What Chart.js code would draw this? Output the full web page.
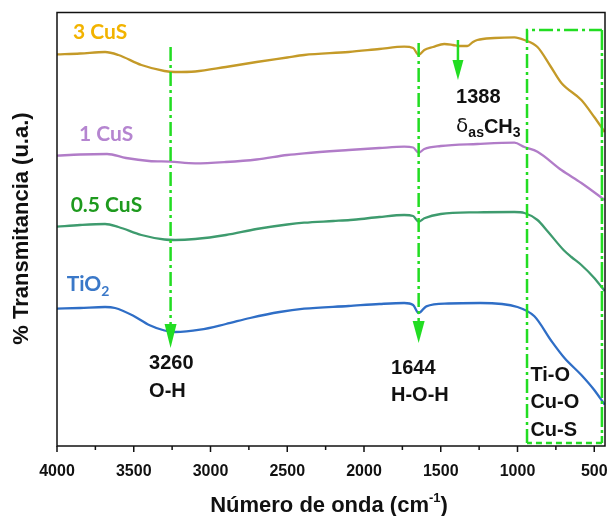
<!DOCTYPE html>
<html><head><meta charset="utf-8">
<script src="https://cdn.jsdelivr.net/npm/chart.js@4.4.1/dist/chart.umd.min.js"></script>
<style>html,body{margin:0;padding:0;background:#fff;}</style>
</head><body>
<canvas id="c" width="608" height="516"></canvas>
<script>
// ---- data (wavenumber cm-1, transmittance a.u.) ----
const seriesNames = ['3 CuS', '1 CuS', '0.5 CuS', 'TiO2'];
const wn3CuS = [4000,3850,3687,3600,3450,3300,3231,3100,2900,2700,2500,2390,2100,1900,1738,1680,1644,1607,1550,1477,1420,1380,1327,1290,1262,1150,1020,955,870,786,714,584,500,432];
const t3CuS  = [391.7,392.5,394,391,381,375,374,374.5,379,384,388.5,391,394,397,399.3,398,391,396,399,402,401,400,400,404,406,408,408.7,406,399,380,363,346,329,314];
const wn1CuS = [4000,3850,3674,3550,3400,3263,3100,2900,2700,2500,2390,2100,1900,1738,1680,1644,1607,1500,1262,1020,955,870,714,584,432];
const t1CuS  = [290.3,291.5,292,288,285,284.3,282.7,284,286.5,291,292.7,296,298,299.3,298.5,293.3,297,300,302,303.3,299,294.3,276,263,246];
const wn05CuS = [4000,3850,3687,3600,3450,3300,3231,3100,2900,2700,2500,2390,2200,2090,2050,1900,1738,1680,1644,1607,1500,1262,1020,955,870,800,700,649,584,500,432];
const t05CuS  = [219.3,221,222,219,211,206.5,206,207,211,217,221.5,223.3,225,226,226.5,229,231,230,224.3,227.7,232,233.7,234,233,226,214,196,189,181,168,155];
const wnTiO2 = [4000,3850,3687,3622,3500,3400,3300,3231,3068,2900,2742,2550,2390,2100,1900,1738,1680,1644,1594,1450,1242,1000,890,779,694,584,500,432];
const tTiO2  = [137.3,138,139,138,130,121,115.5,114,116.3,122,128,134,137.3,140,142,143,141,133,139.7,142.5,143,139,129.7,105,88,71,56,41.3];
const xTickLabels = [4000,3500,3000,2500,2000,1500,1000,500];
const xMinorTicks = [3750,3250,2750,2250,1750,1250,750];
const peakWn = [3260, 1644, 1388];
const peakLabels = ['3260', '1644', '1388'];
const bandLabels = ['O-H', 'H-O-H'];
const boxLabels = ['Ti-O', 'Cu-O', 'Cu-S'];

const lineColors = ['#C49A28', '#B17CC8', '#3E9B6E', '#2F6EC6'];
const labelColors = ['#F2B300', '#B585D0', '#1E9A1E', '#3A78C8'];
const GREEN = '#22DD22';

function pts(w, t) { return w.map((v, i) => ({x: v, y: t[i]})); }
const dataSets = [pts(wn3CuS, t3CuS), pts(wn1CuS, t1CuS), pts(wn05CuS, t05CuS), pts(wnTiO2, tTiO2)];

const annot = {
  id: 'annot',
  afterDatasetsDraw(chart) {
    const ctx = chart.ctx, xs = chart.scales.x, ys = chart.scales.y;
    const X = v => xs.getPixelForValue(v), Y = v => ys.getPixelForValue(v);
    ctx.save();
    function vline(w, t1, t2, dash) {
      ctx.beginPath(); ctx.setLineDash(dash); ctx.strokeStyle = GREEN; ctx.lineWidth = 2.5;
      ctx.moveTo(X(w), Y(t1)); ctx.lineTo(X(w), Y(t2)); ctx.stroke(); ctx.setLineDash([]);
    }
    function arrow(w, tBase, tTip, half) {
      ctx.beginPath(); ctx.fillStyle = GREEN;
      ctx.moveTo(X(w) - half, Y(tBase)); ctx.lineTo(X(w) + half, Y(tBase)); ctx.lineTo(X(w), Y(tTip));
      ctx.closePath(); ctx.fill();
    }
    const dd = [14, 4, 3, 4];
    vline(peakWn[0], 399, 120, dd); arrow(peakWn[0], 122, 98, 6);
    vline(peakWn[1], 403, 123, dd); arrow(peakWn[1], 125, 103, 6);
    vline(peakWn[2], 406, 384, []); arrow(peakWn[2], 386, 366, 5.5);
    // box
    ctx.strokeStyle = GREEN; ctx.lineWidth = 2.5;
    ctx.setLineDash(dd);
    ctx.beginPath(); ctx.moveTo(X(938), Y(3)); ctx.lineTo(X(938), Y(416)); ctx.lineTo(X(450), Y(416)); ctx.stroke();
    ctx.setLineDash([20, 3, 3, 3]);
    ctx.beginPath(); ctx.moveTo(X(450), Y(416)); ctx.lineTo(X(450), Y(3)); ctx.stroke();
    ctx.setLineDash([6, 4]);
    ctx.beginPath(); ctx.moveTo(X(450), Y(3)); ctx.lineTo(X(938), Y(3)); ctx.stroke();
    ctx.setLineDash([]);
    // annotation texts
    ctx.fillStyle = '#111'; ctx.textBaseline = 'middle'; ctx.textAlign = 'left';
    ctx.font = 'bold 20px "Liberation Sans", Arial, sans-serif';
    ctx.fillText(peakLabels[0], X(3400), Y(83));
    ctx.fillText(bandLabels[0], X(3400), Y(55));
    ctx.fillText(peakLabels[1], X(1824), Y(78));
    ctx.fillText(bandLabels[1], X(1824), Y(51));
    ctx.fillText(peakLabels[2], X(1400), Y(349));
    ctx.fillText(boxLabels[0], X(916), Y(71));
    ctx.fillText(boxLabels[1], X(916), Y(44));
    ctx.fillText(boxLabels[2], X(916), Y(16));
    // delta_as CH3
    let x0 = X(1400), y0 = Y(319);
    ctx.font = '20px "DejaVu Sans", sans-serif';
    ctx.fillText('δ', x0, y0); x0 += ctx.measureText('δ').width;
    ctx.font = 'bold 14px "Liberation Sans", Arial, sans-serif';
    ctx.fillText('as', x0, y0 + 6); x0 += ctx.measureText('as').width;
    ctx.font = 'bold 20px "Liberation Sans", Arial, sans-serif';
    ctx.fillText('CH', x0, y0); x0 += ctx.measureText('CH').width;
    ctx.font = 'bold 14px "Liberation Sans", Arial, sans-serif';
    ctx.fillText('3', x0, y0 + 6);
    // series labels
    ctx.font = 'bold 21px Lato, sans-serif';
    ctx.fillStyle = labelColors[0]; ctx.fillText(seriesNames[0], X(3896), Y(414));
    ctx.fillStyle = labelColors[1]; ctx.fillText(seriesNames[1], X(3857), Y(312));
    ctx.fillStyle = labelColors[2]; ctx.fillText(seriesNames[2], X(3911), Y(241));
    ctx.fillStyle = labelColors[3];
    x0 = X(3937); y0 = Y(162);
    ctx.fillText('TiO', x0, y0); x0 += ctx.measureText('TiO').width;
    ctx.font = 'bold 14px Lato, sans-serif';
    ctx.fillText('2', x0, y0 + 7);
    ctx.restore();
  },
  afterDraw(chart) {
    const ctx = chart.ctx, a = chart.chartArea, xs = chart.scales.x;
    ctx.save();
    ctx.strokeStyle = '#111'; ctx.lineWidth = 1.5;
    ctx.strokeRect(a.left, a.top, a.right - a.left, a.bottom - a.top);
    ctx.beginPath();
    xTickLabels.forEach(v => { const p = xs.getPixelForValue(v); ctx.moveTo(p, a.bottom); ctx.lineTo(p, a.bottom + 6); });
    xMinorTicks.forEach(v => { const p = xs.getPixelForValue(v); ctx.moveTo(p, a.bottom); ctx.lineTo(p, a.bottom + 4); });
    ctx.stroke();
    // x title
    ctx.fillStyle = '#111'; ctx.textBaseline = 'alphabetic'; ctx.textAlign = 'left';
    const f1 = 'bold 22px "Liberation Sans", Arial, sans-serif', f2 = 'bold 13px "Liberation Sans", Arial, sans-serif';
    ctx.font = f1; const w1 = ctx.measureText('Número de onda (cm').width, w3 = ctx.measureText(')').width;
    ctx.font = f2; const w2 = ctx.measureText('-1').width;
    let x0 = 329 - (w1 + w2 + w3) / 2; const yb = 512;
    ctx.font = f1; ctx.fillText('Número de onda (cm', x0, yb); x0 += w1;
    ctx.font = f2; ctx.fillText('-1', x0, yb - 10); x0 += w2;
    ctx.font = f1; ctx.fillText(')', x0, yb);
    // y title
    ctx.translate(22, 228.5); ctx.rotate(-Math.PI / 2);
    ctx.textAlign = 'center'; ctx.textBaseline = 'middle';
    ctx.font = 'bold 22px "Liberation Sans", Arial, sans-serif';
    ctx.fillText('% Transmitancia (u.a.)', 0, 0);
    ctx.restore();
  }
};

new Chart(document.getElementById('c'), {
  type: 'line',
  data: {
    datasets: dataSets.map((d, i) => ({
      label: seriesNames[i], data: d, borderColor: lineColors[i], borderWidth: 2.3,
      pointRadius: 0, fill: false, cubicInterpolationMode: 'monotone'
    }))
  },
  options: {
    responsive: false, animation: false, devicePixelRatio: 1,
    layout: { padding: { left: 57, right: 3, top: 12.5, bottom: 0 } },
    plugins: { legend: { display: false }, tooltip: { enabled: false } },
    scales: {
      x: {
        type: 'linear', reverse: true, min: 430, max: 4000,
        afterBuildTicks: s => { s.ticks = xTickLabels.map(v => ({ value: v })); },
        afterFit: s => { s.height = 70; s.paddingLeft = 0; s.paddingRight = 0; },
        grid: { display: true, drawOnChartArea: false, color: 'rgba(0,0,0,0)', tickLength: 6 },
        border: { display: false },
        ticks: { color: '#111', font: { family: '"Liberation Sans", Arial, sans-serif', size: 16, weight: 'bold' }, padding: 10, maxRotation: 0, autoSkip: false, callback: v => String(v) }
      },
      y: { type: 'linear', display: false, min: 0, max: 433.5 }
    }
  },
  plugins: [annot]
});
</script>
</body></html>
